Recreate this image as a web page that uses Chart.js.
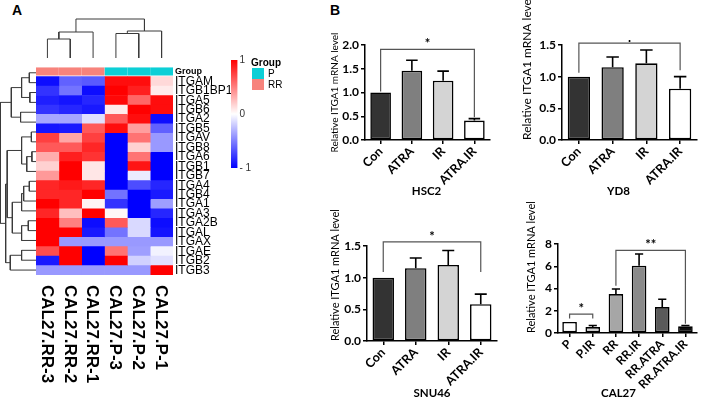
<!DOCTYPE html>
<html>
<head>
<meta charset="utf-8">
<script src="https://cdn.jsdelivr.net/npm/chart.js@4.4.1/dist/chart.umd.min.js"></script>
<style>
  body { margin: 0; width: 708px; height: 402px; position: relative; overflow: hidden; background: #fff; font-family: "Liberation Sans", Arial, sans-serif; }
  .box { position: absolute; }
  .panel { position: absolute; font-weight: bold; font-size: 14px; }
  .lg { position: absolute; font-size: 10px; color: #000; line-height: 11px; }
  .sw { position: absolute; width: 12px; height: 11px; }
</style>
</head>
<body>
<div class="panel" style="left:12px;top:2px">A</div>
<div class="panel" style="left:330px;top:2px">B</div>

<div class="box" style="left:36px;top:16px;width:137px;height:42px"><canvas id="colTree"></canvas></div>
<div class="box" style="left:0;top:58px;width:36px;height:217px"><canvas id="rowTree"></canvas></div>
<div class="box" style="left:36px;top:58px;width:201px;height:344px"><canvas id="heat"></canvas></div>
<div class="box" style="left:231px;top:52px;width:24px;height:124px"><canvas id="scale"></canvas></div>

<div class="lg" style="left:251px;top:57px;font-weight:bold">Group</div>
<div class="sw" style="left:252px;top:68px;background:#0ccfd6"></div>
<div class="lg" style="left:268px;top:68px">P</div>
<div class="sw" style="left:252px;top:79px;background:#f7837c"></div>
<div class="lg" style="left:268px;top:79px">RR</div>

<div class="box" style="left:330px;top:0;width:190px;height:200px"><canvas id="hsc2"></canvas></div>
<div class="box" style="left:520px;top:0;width:188px;height:200px"><canvas id="yd8"></canvas></div>
<div class="box" style="left:330px;top:200px;width:190px;height:202px"><canvas id="snu46"></canvas></div>
<div class="box" style="left:520px;top:200px;width:188px;height:202px"><canvas id="cal27"></canvas></div>

<script>
// ---------- heatmap data (scaled expression, -1..1) ----------
const samples = ["CAL27.RR-3", "CAL27.RR-2", "CAL27.RR-1", "CAL27.P-3", "CAL27.P-2", "CAL27.P-1"];
const sampleGroup = ["RR", "RR", "RR", "P", "P", "P"];
const genes = ["ITGAM", "ITGB1BP1", "ITGA5", "ITGB6", "ITGA2", "ITGB5", "ITGAV", "ITGB8", "ITGA6", "ITGB1",
  "ITGB7", "ITGA4", "ITGB4", "ITGA1", "ITGA3", "ITGA2B", "ITGAL", "ITGAX", "ITGAE", "ITGB2", "ITGB3"];
const zRR3 = [-0.95, -0.8, -0.88, -0.8, -0.35, -0.92, 0.75, 0.65, 0.32, 0.18, 0.4, 0.85, 0.85, 1, 0.85, 1, 1, 1, 0.7, -0.9, -0.4];
const zRR2 = [-0.62, -0.55, -0.92, -0.85, -0.35, -0.9, 0.35, 0.65, 0.88, 1, 1, 0.9, 0.85, 0.85, 0.25, 0.5, 1, -0.4, 1, 1, -0.4];
const zRR1 = [-0.65, -0.95, -0.85, -0.9, -0.12, 0.65, 0.75, 0.85, 0.8, 0.1, 0.1, 0.85, 1, 0.04, 1, -0.95, -0.9, -0.4, -1, -1, -0.4];
const zP3 = [0.95, 1, 0.97, 0.08, 0.65, 0.95, -1, -1, -1, -1, -1, -1, -0.55, -0.8, 0.03, 0.65, -0.55, -0.4, 0.55, 1, -0.4];
const zP2 = [0.95, 0.88, 0.6, 1, 0.95, 0.38, 0.55, 0.18, 0.55, 0.92, -0.08, -0.7, -1, -1, -1, -0.15, -0.15, -0.4, -0.38, -0.18, -0.4];
const zP1 = [0.15, 0.08, 0.95, 0.95, -0.95, -0.62, -0.4, -0.4, -1, -1, -1, -0.85, -0.9, -0.38, -0.85, -0.95, -0.92, -0.4, -0.05, -0.12, 1];
const heatColumns = [zRR3, zRR2, zRR1, zP3, zP2, zP1];
const groupColors = { P: "#0ccfd6", RR: "#f7837c" };

// dendrograms: [childA, childB, height]; new clusters numbered after the leaves
const colMerges = [[0, 1, 19], [2, 6, 26], [3, 4, 24.5], [8, 5, 27], [7, 9, 39]];
const rowMerges = [
  [0, 1, 6.5], [2, 3, 6], [21, 22, 14], [4, 5, 15], [23, 24, 24],
  [8, 9, 4], [26, 10, 9], [6, 7, 4.5], [28, 27, 14],
  [11, 12, 6.5], [30, 13, 12], [31, 14, 14], [15, 16, 7.5], [33, 17, 14], [32, 34, 23],
  [29, 35, 28], [18, 19, 14], [37, 20, 25], [36, 38, 29.5], [25, 39, 34.5]
];
const scaleTicks = [-1, 0, 1];

// ---------- bar chart data ----------
const treatments = ["Con", "ATRA", "IR", "ATRA.IR"];
const hsc2Mean = [1.0, 1.46, 1.25, 0.41];
const hsc2Err = [0, 0.22, 0.2, 0.04];
const yd8Mean = [1.0, 1.15, 1.21, 0.81];
const yd8Err = [0, 0.16, 0.21, 0.19];
const snu46Mean = [1.0, 1.15, 1.2, 0.58];
const snu46Err = [0, 0.16, 0.23, 0.16];
const cal27Groups = ["P", "P.IR", "RR", "RR.IR", "RR.ATRA", "RR.ATRA.IR"];
const cal27Mean = [1.0, 0.53, 3.5, 6.05, 2.33, 0.6];
const cal27Err = [0, 0.15, 0.45, 1.05, 0.7, 0.08];
// [from, to, level, left end, right end, mark]
const hsc2Sig = [[0, 3, 1.91, 1.02, 0.48, "*"]];
const yd8Sig = [[0, 3, 1.53, 1.06, 1.1, "."]];
const snu46Sig = [[0, 3, 1.565, 1.09, 1.09, "*"]];
const cal27Sig = [[0, 1, 1.7, 1.3, 1.3, "*"], [2, 5, 7.43, 4.25, 0.84, "**"]];

Chart.defaults.animation = false;
Chart.defaults.font.family = "Lato";
Chart.defaults.color = "#000";
Chart.defaults.plugins.legend.display = false;
Chart.defaults.plugins.tooltip.enabled = false;

function heatColor(v) {
  v = Math.max(-1, Math.min(1, v));
  if (v < 0) {
    const c = Math.round(255 * (1 + v));
    return `rgb(${c},${c},255)`;
  }
  const c = Math.round(255 * (1 - v));
  return `rgb(255,${c},${c})`;
}

// U-shaped links of a dendrogram, in (position, height) pairs
function treeLinks(merges, nLeaves, firstPos) {
  const pos = [], hgt = [];
  for (let i = 0; i < nLeaves; i++) { pos.push(firstPos + i); hgt.push(0); }
  const links = [];
  merges.forEach(([a, b, h]) => {
    links.push([[pos[a], hgt[a]], [pos[a], h], [pos[b], h], [pos[b], hgt[b]]]);
    pos.push((pos[a] + pos[b]) / 2);
    hgt.push(h);
  });
  return links;
}

function lineSet(points) {
  return { data: points, borderColor: "#3a3a3a", borderWidth: 1, pointRadius: 0, clip: false, tension: 0 };
}

// column dendrogram
new Chart(document.getElementById("colTree"), {
  type: "line",
  data: { datasets: treeLinks(colMerges, samples.length, 0).map((l) => lineSet(l.map(([p, h]) => ({ x: p, y: h })))) },
  options: {
    responsive: true, maintainAspectRatio: false,
    layout: { padding: { top: 1 } },
    scales: {
      x: { type: "linear", min: -0.5, max: 5.5, display: false },
      y: { type: "linear", min: 0, max: 41, display: false },
    },
  },
});

// row dendrogram
new Chart(document.getElementById("rowTree"), {
  type: "line",
  data: { datasets: treeLinks(rowMerges, genes.length, 1).map((l) => lineSet(l.map(([p, h]) => ({ x: h, y: p })))) },
  options: {
    responsive: true, maintainAspectRatio: false,
    scales: {
      x: { type: "linear", min: 0, max: 35, reverse: true, display: false },
      y: { type: "linear", min: -0.5, max: genes.length + 0.5, reverse: true, display: false },
    },
  },
});

// heatmap: one stacked horizontal bar per sample column
const sampleLabels = {
  id: "sampleLabels",
  afterDraw(chart) {
    const { ctx, chartArea } = chart;
    const x = chart.scales.x;
    ctx.save();
    ctx.font = 'bold 17px "Liberation Sans", Arial, sans-serif';
    ctx.fillStyle = "#000";
    ctx.textAlign = "left";
    ctx.textBaseline = "middle";
    samples.forEach((s, i) => {
      ctx.save();
      ctx.translate(x.getPixelForValue(i + 0.5) - 1, chartArea.bottom + 10);
      ctx.rotate(Math.PI / 2);
      ctx.fillText(s, 0, 0);
      ctx.restore();
    });
    ctx.restore();
  },
};

new Chart(document.getElementById("heat"), {
  type: "bar",
  data: {
    labels: ["Group"].concat(genes),
    datasets: heatColumns.map((col, s) => ({
      label: samples[s],
      data: [1].concat(col.map(() => 1)),
      backgroundColor: [groupColors[sampleGroup[s]]].concat(col.map(heatColor)),
      borderColor: "#fff",
      borderWidth: (c) => (c.dataIndex === 0 ? { bottom: 1.5, top: 0, left: 0, right: 0 } : 0),
      borderSkipped: false,
      barPercentage: 1,
      categoryPercentage: 1,
    })),
  },
  options: {
    indexAxis: "y",
    responsive: true, maintainAspectRatio: false,
    layout: { padding: { bottom: 127 } },
    scales: {
      x: { type: "linear", stacked: true, min: 0, max: 6, display: false },
      y: {
        stacked: true, position: "right",
        grid: { display: false, drawTicks: false }, border: { display: false },
        ticks: {
          autoSkip: false, padding: 2, color: "#000",
          font: (c) => (c.index === 0
            ? { family: '"Liberation Sans", Arial', size: 9, weight: "bold" }
            : { family: '"Liberation Sans", Arial', size: 12 }),
        },
        afterFit: (s) => { s.width = 64; },
      },
    },
  },
  plugins: [sampleLabels],
});

// colour key
new Chart(document.getElementById("scale"), {
  type: "bar",
  data: {
    labels: ["key"],
    datasets: [{
      data: [[scaleTicks[0], scaleTicks[2]]],
      barPercentage: 1, categoryPercentage: 1,
      backgroundColor: (c) => {
        const { chart } = c;
        if (!chart.chartArea) return "#fff";
        const y = chart.scales.y;
        const g = chart.ctx.createLinearGradient(0, y.getPixelForValue(1), 0, y.getPixelForValue(-1));
        g.addColorStop(0, heatColor(1));
        g.addColorStop(0.5, heatColor(0));
        g.addColorStop(1, heatColor(-1));
        return g;
      },
    }],
  },
  options: {
    responsive: true, maintainAspectRatio: false,
    layout: { padding: { top: 6, bottom: 7 } },
    scales: {
      x: { display: false },
      y: {
        position: "right", min: -1, max: 1,
        grid: { display: false, drawTicks: false }, border: { display: false },
        afterBuildTicks: (s) => { s.ticks = scaleTicks.map((v) => ({ value: v })); },
        ticks: {
          padding: 2, color: "#333",
          font: { family: '"Liberation Sans", Arial', size: 10 },
          callback: (v) => (v < 0 ? "- " + Math.abs(v) : String(v)),
        },
        afterFit: (s) => { s.width = 17.5; },
      },
    },
  },
});

// error bars, significance brackets and the cell-line name under each plot
function marksPlugin(cfg) {
  return {
    id: "marks",
    afterDatasetsDraw(chart) {
      const { ctx, chartArea } = chart;
      const y = chart.scales.y;
      const means = chart.data.datasets[0].data;
      const bars = chart.getDatasetMeta(0).data;
      ctx.save();
      ctx.strokeStyle = "#000";
      ctx.lineWidth = 1.6;
      bars.forEach((bar, i) => {
        if (!cfg.errors[i]) return;
        const top = y.getPixelForValue(means[i] + cfg.errors[i]);
        const cap = bar.width * 0.28;
        ctx.beginPath();
        ctx.moveTo(bar.x, y.getPixelForValue(means[i]));
        ctx.lineTo(bar.x, top);
        ctx.moveTo(bar.x - cap, top);
        ctx.lineTo(bar.x + cap, top);
        ctx.stroke();
      });
      ctx.strokeStyle = "#555";
      ctx.lineWidth = 1.2;
      ctx.fillStyle = "#000";
      ctx.font = "bold 13px Lato";
      ctx.textAlign = "center";
      ctx.textBaseline = "alphabetic";
      cfg.sig.forEach(([a, b, level, endA, endB, mark]) => {
        const xa = bars[a].x, xb = bars[b].x, yl = y.getPixelForValue(level);
        ctx.beginPath();
        ctx.moveTo(xa, y.getPixelForValue(endA));
        ctx.lineTo(xa, yl);
        ctx.lineTo(xb, yl);
        ctx.lineTo(xb, y.getPixelForValue(endB));
        ctx.stroke();
        ctx.fillText(mark, (xa + xb) / 2, yl - 1);
      });
      ctx.font = "bold 11.5px Lato";
      ctx.textBaseline = "middle";
      ctx.fillText(cfg.title, (chartArea.left + chartArea.right) / 2 + cfg.titleShift, chart.height - 9);
      ctx.restore();
    },
  };
}

function barChart(id, cfg) {
  new Chart(document.getElementById(id), {
    type: "bar",
    data: {
      labels: cfg.labels,
      datasets: [{
        data: cfg.means,
        backgroundColor: cfg.fills,
        borderColor: "#000",
        borderWidth: 1.6,
        borderSkipped: false,
        barPercentage: cfg.barPct,
        categoryPercentage: 1,
      }],
    },
    options: {
      responsive: true, maintainAspectRatio: false,
      layout: { padding: { top: cfg.top, right: cfg.right, left: 0, bottom: 0 } },
      scales: {
        x: {
          grid: { offset: false, drawOnChartArea: false, tickLength: 4, color: "#000", lineWidth: 1.5 },
          border: { color: "#000", width: 1.5 },
          ticks: { autoSkip: false, minRotation: 45, maxRotation: 45, padding: 0, color: "#000", font: { size: cfg.xSize, weight: "bold" } },
          afterFit: (s) => { s.height = cfg.xHeight; },
        },
        y: {
          min: 0, max: cfg.max,
          grid: { drawOnChartArea: false, tickLength: 4, color: "#000", lineWidth: 1.5 },
          border: { color: "#000", width: 1.5 },
          ticks: { stepSize: cfg.step, padding: 2, color: "#000", font: { size: 12, weight: "bold" }, callback: cfg.fmt },
          title: { display: true, text: "Relative ITGA1 mRNA level", align: cfg.yAlign, color: "#000", font: { size: cfg.ySize }, padding: { top: cfg.yPad, bottom: 0 } },
          afterFit: (s) => { s.width = cfg.yWidth; },
        },
      },
    },
    plugins: [marksPlugin(cfg)],
  });
}

const grays4 = ["#333333", "#7f7f7f", "#d4d4d4", "#ffffff"];
const oneDec = (v) => v.toFixed(1);

barChart("hsc2", { labels: treatments, means: hsc2Mean, errors: hsc2Err, sig: hsc2Sig, fills: grays4, title: "HSC2", titleShift: -1,
  max: 2, step: 0.5, fmt: oneDec, top: 45, right: 30, yWidth: 35, xHeight: 60, barPct: 0.66, xSize: 12.5, yAlign: "center", ySize: 10, yPad: -1 });
barChart("yd8", { labels: treatments, means: yd8Mean, errors: yd8Err, sig: yd8Sig, fills: grays4, title: "YD8", titleShift: -11,
  max: 1.5, step: 0.5, fmt: oneDec, top: 45, right: 11, yWidth: 42, xHeight: 60, barPct: 0.66, xSize: 12.5, yAlign: "start", ySize: 12, yPad: 0 });
barChart("snu46", { labels: treatments, means: snu46Mean, errors: snu46Err, sig: snu46Sig, fills: grays4, title: "SNU46", titleShift: 0,
  max: 1.5, step: 0.5, fmt: oneDec, top: 46, right: 23, yWidth: 37, xHeight: 61, barPct: 0.66, xSize: 12.5, yAlign: "start", ySize: 11, yPad: -1 });
barChart("cal27", { labels: cal27Groups, means: cal27Mean, errors: cal27Err, sig: cal27Sig,
  fills: ["#ffffff", "#cfcfcf", "#a6a6a6", "#8a8a8a", "#5a5a5a", "#0d0d0d"], title: "CAL27", titleShift: -9,
  max: 8, step: 2, fmt: (v) => String(v), top: 44, right: 11, yWidth: 38, xHeight: 69, barPct: 0.63, xSize: 12, yAlign: "start", ySize: 11, yPad: 4.5 });
</script>
</body>
</html>
